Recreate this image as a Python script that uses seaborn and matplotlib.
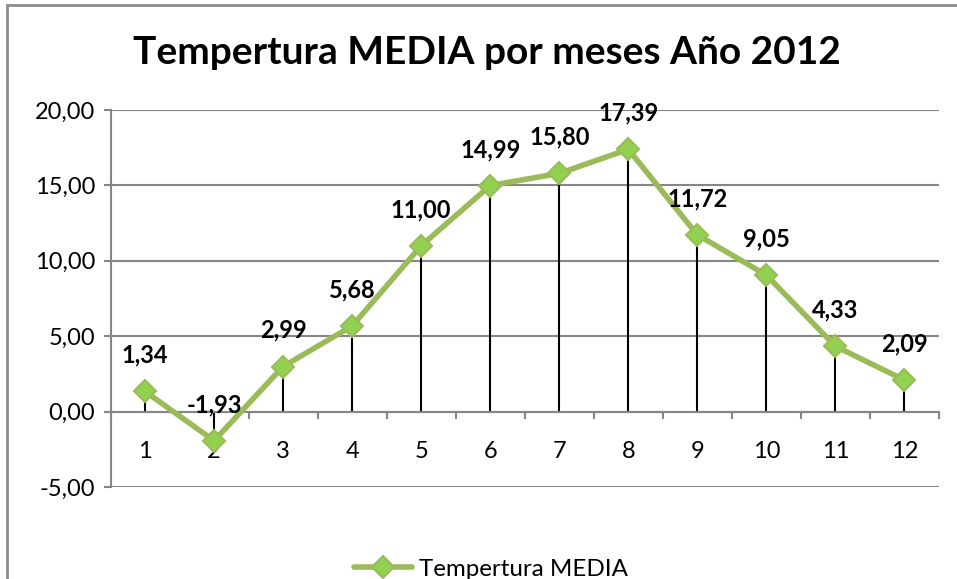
import seaborn as sns
import pandas as pd
import matplotlib.pyplot as plt
from matplotlib.patches import Rectangle

meses = [1, 2, 3, 4, 5, 6, 7, 8, 9, 10, 11, 12]
temperatura = [1.34, -1.93, 2.99, 5.68, 11.00, 14.99, 15.80, 17.39, 11.72, 9.05, 4.33, 2.09]
y_ticks = [-5, 0, 5, 10, 15, 20]

titulo = "Tempertura MEDIA por meses Año 2012"
serie = "Tempertura MEDIA"

sns.set_theme(style="white")
plt.rcParams['font.family'] = ['Lato', 'DejaVu Sans']
plt.rcParams['text.color'] = 'black'
plt.rcParams['xtick.color'] = 'black'
plt.rcParams['ytick.color'] = 'black'

W, H = 957, 579
fig = plt.figure(figsize=(W / 100, H / 100), dpi=100)

# chart frame (only left and top edges visible in the original)
fig.add_artist(Rectangle((7.5 / W, -0.1), 1.2, 1.1 - 5 / H, transform=fig.transFigure,
                         fill=False, edgecolor="#8c8c8c", linewidth=2))

ax = fig.add_axes([110.5 / W, 1 - 487 / H, (939 - 110.5) / W, (487 - 110) / H])

df = pd.DataFrame({"mes": meses, "temp": temperatura})

# drop lines
ax.vlines(df["mes"], 0, df["temp"], color="black", linewidth=1.5, zorder=2)

sns.lineplot(data=df, x="mes", y="temp", ax=ax, color="#9BBB59", linewidth=4,
             marker="D", markersize=11, markerfacecolor="#92D050",
             markeredgecolor="#9BBB59", markeredgewidth=1.5, label=serie, zorder=3)

# data labels on top of the line
for m, t in zip(meses, temperatura):
    ax.annotate(f"{t:.2f}".replace(".", ","), (m, t), xytext=(0, 26), textcoords="offset points",
                ha="center", va="center", fontsize=17, fontweight="bold", color="black", zorder=5)

ax.set_xlim(0.5, 12.5)
ax.set_ylim(-5, 20)
ax.set_yticks(y_ticks)
ax.set_yticklabels([f"{v:.2f}".replace(".", ",") for v in y_ticks])
ax.set_xticks(meses)
ax.set_xticklabels([str(m) for m in meses])
ax.set_xticks([m + 0.5 for m in [0] + meses], minor=True)

ax.grid(True, axis="y", color="#868686", linewidth=1.5)
ax.set_axisbelow(True)
for s in ["top", "right"]:
    ax.spines[s].set_visible(False)
ax.spines["left"].set_color("#868686")
ax.spines["left"].set_linewidth(1.5)
ax.spines["bottom"].set_color("#868686")
ax.spines["bottom"].set_linewidth(1.5)
ax.spines["bottom"].set_position(("data", 0))

ax.tick_params(axis="y", which="major", left=True, length=5, width=1.5, color="#868686",
               labelsize=17, labelcolor="black", pad=6)
ax.tick_params(axis="x", which="major", bottom=False, labelsize=17, labelcolor="black", pad=15)
ax.tick_params(axis="x", which="minor", bottom=True, length=5, width=1.5, color="#868686")
ax.set_xlabel("")
ax.set_ylabel("")

ax.get_legend().remove()
handles, labels = ax.get_legend_handles_labels()
fig.legend(handles, labels, loc="center", bbox_to_anchor=(491 / W, 1 - 569 / H),
           frameon=False, fontsize=17.4, handlelength=2.4, handletextpad=0.3)

fig.text(487 / W, 1 - 52 / H, titulo, ha="center", va="center", fontsize=28, fontweight="bold")

fig.savefig("out.png", dpi=100)
